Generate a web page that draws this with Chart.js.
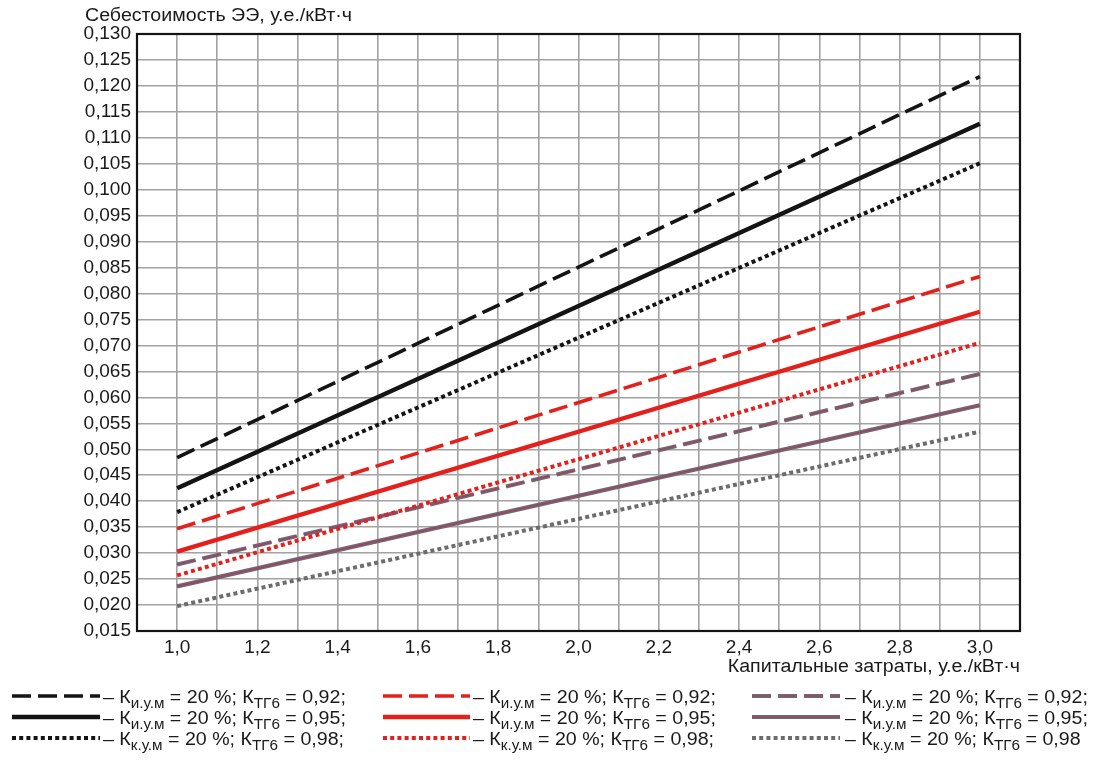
<!DOCTYPE html>
<html lang="ru">
<head>
<meta charset="utf-8">
<title>Себестоимость ЭЭ</title>
<script src="https://cdn.jsdelivr.net/npm/chart.js@4/dist/chart.umd.min.js"></script>
<style>
  html, body { margin: 0; padding: 0; background: #fff; }
  #wrap { width: 1103px; height: 763px; position: relative; }
</style>
</head>
<body>
<div id="wrap"><canvas id="costChart"></canvas></div>
<script>
// Капитальные затраты, у.е./кВт·ч
const capex = [1.0, 3.0];

// Себестоимость ЭЭ, у.е./кВт·ч (значения при 1,0 и 3,0)
const blackK092 = [0.0484, 0.1218];
const blackK095 = [0.0425, 0.1127];
const blackK098 = [0.0379, 0.1051];
const redK092 = [0.0347, 0.0833];
const redK095 = [0.0303, 0.0765];
const redK098 = [0.0257, 0.0705];
const grayK092 = [0.0278, 0.0645];
const grayK095 = [0.0236, 0.0585];
const grayK098 = [0.0198, 0.0534];

// Сетка и подписи осей
const yTicks = [0.015, 0.020, 0.025, 0.030, 0.035, 0.040, 0.045, 0.050, 0.055, 0.060, 0.065, 0.070,
  0.075, 0.080, 0.085, 0.090, 0.095, 0.100, 0.105, 0.110, 0.115, 0.120, 0.125, 0.130];
const xGrid = [0.9, 1.0, 1.1, 1.2, 1.3, 1.4, 1.5, 1.6, 1.7, 1.8, 1.9, 2.0, 2.1, 2.2, 2.3, 2.4, 2.5,
  2.6, 2.7, 2.8, 2.9, 3.0, 3.1];
const xLabelled = [1.0, 1.2, 1.4, 1.6, 1.8, 2.0, 2.2, 2.4, 2.6, 2.8, 3.0];

const yTitle = 'Себестоимость ЭЭ, у.е./кВт·ч';
const xTitle = 'Капитальные затраты, у.е./кВт·ч';
const legendSub = ['и.у.м', 'и.у.м', 'к.у.м'];
const legendKtg = ['0,92;', '0,95;', '0,98;'];

const FONT = '"Liberation Sans", Arial, Helvetica, sans-serif';
const STRETCH = 1.09;   // шрифт в подписях чуть шире обычного Arial
const BLACK = '#141414';
const RED = '#e3201b';
const GRAY = '#6c6c6c';
const MAGENTA = '#b0366f';
const DASH = [19, 7];
const DOT = [4, 3.2];

function pts(values) {
  return capex.map((x, i) => ({x: x, y: values[i]}));
}

function line(values, color, dash, width, order) {
  return {
    data: pts(values),
    borderColor: color,
    borderDash: dash,
    borderWidth: width,
    borderCapStyle: 'butt',
    pointRadius: 0,
    fill: false,
    tension: 0,
    order: order === undefined ? 1 : order
  };
}

const datasets = [
  line(blackK092, BLACK, DASH, 3.6),
  line(blackK095, BLACK, [], 4.4),
  line(blackK098, BLACK, DOT, 4),
  line(redK092, RED, DASH, 3.6),
  line(redK095, RED, [], 4.4),
  line(redK098, RED, DOT, 4),
  line(grayK092, GRAY, DASH, 4),
  line(grayK095, GRAY, [], 4.2),
  line(grayK098, GRAY, DOT, 4),
  // тонкая малиновая жила поверх серых линий
  line(grayK092, MAGENTA, DASH, 1.1, 0),
  line(grayK095, MAGENTA, [], 1.1, 0)
];

// строки легенды: индекс набора, индекс «жилы» (или -1), столбец, строка
const legendRows = [
  [0, -1, 0, 0], [1, -1, 0, 1], [2, -1, 0, 2],
  [3, -1, 1, 0], [4, -1, 1, 1], [5, -1, 1, 2],
  [6, 9, 2, 0], [7, 10, 2, 1], [8, -1, 2, 2]
];
const legendSampleX = [[12, 100], [383, 470], [752, 840]];
const legendTextX = [103, 473, 845];
const legendLineY = [696, 717, 738];

function strokeSample(ctx, ds, x0, x1, y) {
  ctx.save();
  ctx.strokeStyle = ds.borderColor;
  ctx.lineWidth = ds.borderWidth;
  ctx.lineCap = 'butt';
  ctx.setLineDash(ds.borderDash || []);
  ctx.beginPath();
  ctx.moveTo(x0, y);
  ctx.lineTo(x1, y);
  ctx.stroke();
  ctx.restore();
}

// текст, растянутый по горизонтали; align: 'left' | 'right'
function wideText(ctx, txt, x, y, align) {
  const w = ctx.measureText(txt).width * STRETCH;
  ctx.save();
  ctx.textAlign = 'left';
  ctx.translate(align === 'right' ? x - w : x, y);
  ctx.scale(STRETCH, 1);
  ctx.fillText(txt, 0, 0);
  ctx.restore();
  return w;
}

function drawLegendText(ctx, x, baseline, sub, ktg) {
  const parts = [
    ['– К', false], [sub, true], [' = 20 %; К', false], ['ТГ6', true], [' = ' + ktg, false]
  ];
  ctx.fillStyle = '#1a1a1a';
  ctx.textBaseline = 'alphabetic';
  parts.forEach(([txt, isSub]) => {
    ctx.font = (isSub ? '14px ' : '18px ') + FONT;
    x += wideText(ctx, txt, x, baseline + (isSub ? 5 : 0), 'left');
  });
}

const decorations = {
  id: 'decorations',
  afterDraw(chart) {
    const ctx = chart.ctx;
    const a = chart.chartArea;

    // рамка поля графика
    ctx.save();
    ctx.strokeStyle = BLACK;
    ctx.lineWidth = 2.2;
    ctx.strokeRect(a.left, a.top, a.right - a.left, a.bottom - a.top);

    // заголовки осей
    ctx.fillStyle = '#1a1a1a';
    ctx.font = '18px ' + FONT;
    ctx.textBaseline = 'middle';
    wideText(ctx, yTitle, 85, 16, 'left');
    wideText(ctx, xTitle, a.right, 667, 'right');

    // легенда
    legendRows.forEach(([di, oi, col, row]) => {
      const y = legendLineY[row];
      const [x0, x1] = legendSampleX[col];
      strokeSample(ctx, chart.data.datasets[di], x0, x1, y);
      if (oi >= 0) strokeSample(ctx, chart.data.datasets[oi], x0, x1, y);
      const ktg = (col === 2 && row === 2) ? legendKtg[row].replace(';', '') : legendKtg[row];
      drawLegendText(ctx, legendTextX[col], y + 6.5, legendSub[row], ktg);
    });
    ctx.restore();
  }
};

const near = (list, v) => list.some(t => Math.abs(t - v) < 1e-6);

new Chart(document.getElementById('costChart'), {
  type: 'line',
  data: {datasets: datasets},
  options: {
    responsive: true,
    maintainAspectRatio: false,
    animation: false,
    events: [],
    layout: {padding: {left: 0, top: 34, right: 83, bottom: 0}},
    plugins: {legend: {display: false}, tooltip: {enabled: false}},
    scales: {
      x: {
        type: 'linear',
        min: 0.9,
        max: 3.1,
        afterBuildTicks: s => { s.ticks = xGrid.map(v => ({value: v})); },
        afterFit: s => { s.height = 132; },
        border: {display: false},
        grid: {color: '#a2a2a2', lineWidth: 1.6, drawTicks: false},
        ticks: {
          autoSkip: false,
          maxRotation: 0,
          padding: 5,
          color: '#1a1a1a',
          font: {family: FONT, size: 19},
          callback: v => near(xLabelled, v) ? v.toFixed(1).replace('.', ',') : ''
        }
      },
      y: {
        min: 0.015,
        max: 0.130,
        afterBuildTicks: s => { s.ticks = yTicks.map(v => ({value: v})); },
        afterFit: s => { s.width = 137; },
        border: {display: false},
        grid: {color: '#a2a2a2', lineWidth: 1.6, drawTicks: false},
        ticks: {
          autoSkip: false,
          padding: 6,
          color: '#1a1a1a',
          font: {family: FONT, size: 19},
          callback: v => v.toFixed(3).replace('.', ',')
        }
      }
    }
  },
  plugins: [decorations]
});
</script>
</body>
</html>
